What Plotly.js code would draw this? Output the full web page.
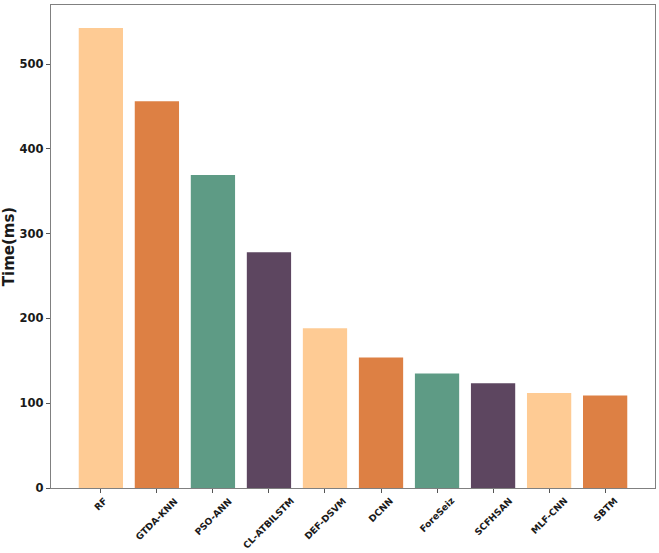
<!DOCTYPE html>
<html>
<head>
<meta charset="utf-8">
<script src="https://cdn.plot.ly/plotly-3.0.1.min.js"></script>
<style>html,body{margin:0;padding:0;background:#fff;}#chart{width:659px;height:553px;}</style>
</head>
<body>
<div id="chart"></div>
<script>
const categories = ["RF", "GTDA-KNN", "PSO-ANN", "CL-ATBILSTM", "DEF-DSVM", "DCNN", "ForeSeiz", "SCFHSAN", "MLF-CNN", "SBTM"];
const timeMs = [542.5, 456, 369, 278, 188.5, 154, 135, 123.5, 112, 109];
const barColors = ["#FECB94", "#DD8044", "#5E9B85", "#5D4660", "#FECB94", "#DD8044", "#5E9B85", "#5D4660", "#FECB94", "#DD8044"];
const yTicks = [0, 100, 200, 300, 400, 500];
const yTitle = "Time(ms)";

const font = "DejaVu Sans, sans-serif";

const trace = {
  type: "bar",
  x: categories,
  y: timeMs,
  marker: { color: barColors, line: { width: 0 } },
  width: 0.79,
  hoverinfo: "x+y"
};

const annotations = categories.map(c => ({
  x: c, xref: "x",
  y: 0, yref: "paper",
  yshift: -6,
  text: "<b>" + c + "</b>",
  textangle: -45,
  showarrow: false,
  borderpad: 0,
  xanchor: "center",
  yanchor: "top",
  font: { family: font, size: 9.2, color: "#1a1a1a" }
}));

const layout = {
  width: 659, height: 553,
  margin: { l: 51, r: 4, t: 5, b: 65 },
  paper_bgcolor: "#fff", plot_bgcolor: "#fff",
  showlegend: false,
  xaxis: {
    type: "category",
    range: [-0.89, 9.89],
    showticklabels: false,
    ticks: "outside", ticklen: 4, tickwidth: 1, tickcolor: "#555",
    showline: true, linecolor: "#808080", linewidth: 1.3, mirror: true,
    showgrid: false, zeroline: false, fixedrange: true
  },
  yaxis: {
    range: [0, 569.6],
    tickvals: yTicks,
    ticktext: yTicks.map(v => "<b>" + v + "</b>"),
    ticks: "outside", ticklen: 4, tickwidth: 1, tickcolor: "#555",
    tickfont: { family: font, size: 11.5, color: "#1a1a1a" },
    showline: true, linecolor: "#808080", linewidth: 1.3, mirror: true,
    showgrid: false, zeroline: false,
    title: { text: "<b>" + yTitle + "</b>", font: { family: font, size: 15, color: "#1a1a1a" }, standoff: 6 }
  },
  annotations: annotations
};

Plotly.newPlot("chart", [trace], layout, { displayModeBar: false, staticPlot: true });
</script>
</body>
</html>
